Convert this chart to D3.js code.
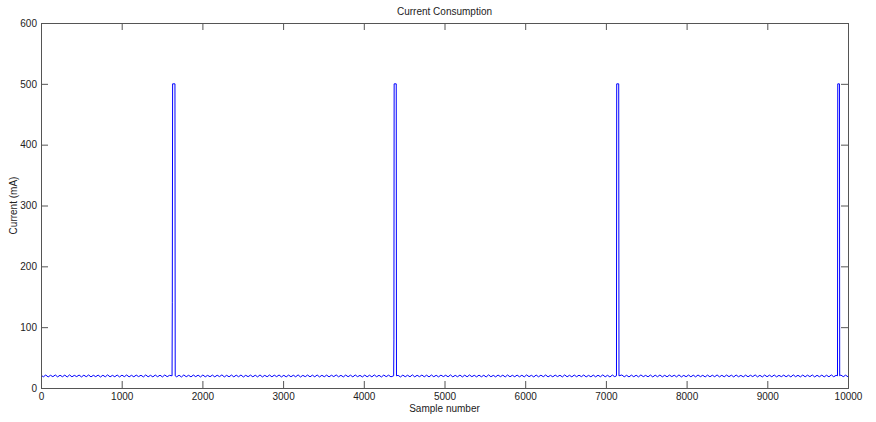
<!DOCTYPE html>
<html>
<head>
<meta charset="utf-8">
<script src="https://cdn.jsdelivr.net/npm/d3@7"></script>
<style>
  html, body { margin: 0; padding: 0; background: #fff; }
  svg { display: block; }
  text { font-family: "Liberation Sans", Arial, sans-serif; fill: #222; }
</style>
</head>
<body>
<svg id="chart" width="876" height="422"></svg>
<script>
// ---------- DATA ----------
const chartTitle = "Current Consumption";
const xLabel = "Sample number";
const yLabel = "Current (mA)";
const xTicks = [0,1000,2000,3000,4000,5000,6000,7000,8000,9000,10000];
const yTicks = [0,100,200,300,400,500,600];
const xDomain = [0, 10000];
const yDomain = [0, 600];

// Idle current ripple (mA), evenly spaced over samples 0..10000
const baseline = [
21.1,18.4,21.3,18.2,20.9,18.6,21.4,18.3,21.0,18.5,
21.2,18.1,21.5,18.4,20.8,18.7,21.3,18.2,21.1,18.5,
21.4,18.3,20.9,18.6,21.2,18.1,21.0,18.4,21.6,18.3,
20.8,18.5,21.3,18.2,21.1,18.6,21.4,18.3,20.9,18.4,
21.2,18.7,21.0,18.2,21.5,18.4,20.9,18.3,21.3,18.5,
21.1,18.2,21.4,18.6,20.8,18.3,21.2,18.4,21.0,18.1,
21.5,18.5,20.9,18.3,21.3,18.6,21.1,18.2,21.4,18.4,
20.8,18.5,21.2,18.3,21.0,18.7,21.6,18.2,20.9,18.4,
21.3,18.3,21.1,18.5,21.4,18.1,20.9,18.6,21.2,18.4,
21.0,18.3,21.5,18.2,20.8,18.5,21.3,18.4,21.1,18.6,
21.4,18.2,20.9,18.3,21.2,18.5,21.0,18.4,21.6,18.1,
20.8,18.6,21.3,18.3,21.1,18.4,21.4,18.2,20.9,18.5,
21.2,18.3,21.0,18.7,21.5,18.4,20.9,18.2,21.3,18.5,
21.1,18.3,21.4,18.6,20.8,18.2,21.2,18.4,21.0,18.3,
21.5,18.5,20.9,18.1,21.3,18.6,21.1,18.4,21.4,18.3,
20.8,18.2,21.2,18.5,21.0,18.4,21.6,18.3,20.9,18.6,
21.3,18.4,21.1,18.2,21.4,18.5,20.9,18.3,21.2,18.7,
21.0,18.4,21.5,18.3,20.8,18.5,21.3,18.2,21.1,18.4,
21.4,18.6,20.9,18.3,21.2,18.4,21.0,18.1,21.6,18.5,
20.8,18.3,21.3,18.6,21.1,18.2,21.4,18.4,20.9,18.5,
21.2,18.4,21.0,18.3,21.5,18.6,20.9,18.2,21.3,18.4,
21.1,18.5,21.4,18.3,20.8,18.4,21.2,18.7,21.0,18.2,
21.5,18.4,20.9,18.3,21.3,18.5,21.1,18.6,21.4,18.2,
20.8,18.4,21.2,18.3,21.0,18.5,21.6,18.4,20.9,18.1,
21.3,18.6,21.1,18.3,21.4,18.4,20.9,18.2,21.2,18.5,
21.0,18.3,21.5,18.6,20.8,18.4,21.3,18.2,21.1,18.5,
21.4,18.3,20.9,18.4,21.2,18.7,21.0,18.3,21.6,18.2,
20.8,18.5,21.3,18.4,21.1,18.3,21.4,18.6,20.9,18.2,
21.2,18.4,21.0,18.5,21.5,18.3,20.9,18.4,21.3,18.6,
21.1,18.2,21.4,18.5,20.8,18.3,21.2,18.4,21.0,18.7,
21.5,18.3,20.9,18.2,21.3,18.5,21.1,18.4,21.4,18.3,
20.8,18.6,21.2,18.4,21.0,18.2,21.6,18.5,20.9,18.3,
21.3,18.4,21.1,18.6,21.4,18.2,20.9,18.5,21.2,18.3,
21.0,18.4,21.5,18.5,20.8,18.3,21.3,18.6,21.1,18.4
];

// Transmission bursts: sample numbers and current values (mA)
const burst1Samples = [1624, 1627, 1631, 1660, 1663];
const burst1Values  = [20, 140, 500, 500, 20];
const burst2Samples = [4370, 4373, 4376, 4402, 4405];
const burst2Values  = [20, 79, 500, 500, 20];
const burst3Samples = [7131, 7134, 7159, 7162];
const burst3Values  = [20, 500, 500, 20];
const burst4Samples = [9870, 9873, 9894, 9897];
const burst4Values  = [20, 500, 500, 20];

// ---------- BUILD SERIES ----------
const bursts = [
  [burst1Samples, burst1Values],
  [burst2Samples, burst2Values],
  [burst3Samples, burst3Values],
  [burst4Samples, burst4Values]
];
const nB = baseline.length;
let pts = baseline.map((v, i) => ({ x: i * (xDomain[1] - xDomain[0]) / (nB - 1), y: v }));
bursts.forEach(([xs, ys]) => {
  const lo = xs[0], hi = xs[xs.length - 1];
  pts = pts.filter(p => p.x < lo - 10 || p.x > hi + 10);
  xs.forEach((xv, i) => pts.push({ x: xv, y: ys[i] }));
});
pts.sort((a, b) => a.x - b.x);

// ---------- DRAW ----------
const svg = d3.select("#chart");
const L = 41, R = 848, T = 23, B = 388;
const xS = d3.scaleLinear().domain(xDomain).range([L, R]);
const yS = d3.scaleLinear().domain(yDomain).range([B, T]);
const axisColor = "#555";
const tickLen = 7;

svg.append("rect").attr("x", L).attr("y", T).attr("width", R - L).attr("height", B - T)
  .attr("fill", "#fff");

svg.append("path")
  .datum(pts)
  .attr("fill", "none")
  .attr("stroke", "#0000ff")
  .attr("stroke-width", 1)
  .attr("d", d3.line().x(d => xS(d.x)).y(d => yS(d.y)));

const fs = 10;
const gBottom = svg.append("g").attr("transform", `translate(0,${B})`)
  .call(d3.axisBottom(xS).tickValues(xTicks).tickSize(-tickLen).tickPadding(5).tickFormat(d3.format("d")));
const gTop = svg.append("g").attr("transform", `translate(0,${T})`)
  .call(d3.axisTop(xS).tickValues(xTicks).tickSize(-tickLen).tickFormat(""));
const gLeft = svg.append("g").attr("transform", `translate(${L},0)`)
  .call(d3.axisLeft(yS).tickValues(yTicks).tickSize(-tickLen).tickPadding(4).tickFormat(d3.format("d")));
const gRight = svg.append("g").attr("transform", `translate(${R},0)`)
  .call(d3.axisRight(yS).tickValues(yTicks).tickSize(-tickLen).tickFormat(""));

[gBottom, gTop, gLeft, gRight].forEach(g => {
  g.select(".domain").attr("stroke", axisColor).attr("stroke-width", 1);
  g.selectAll(".tick line").attr("stroke", axisColor).attr("stroke-width", 1);
  g.selectAll(".tick text").attr("font-size", fs).attr("fill", "#222")
    .attr("font-family", "'Liberation Sans', Arial, sans-serif");
});

svg.append("text").attr("x", (L + R) / 2).attr("y", 15)
  .attr("text-anchor", "middle").attr("font-size", fs).text(chartTitle);
svg.append("text").attr("x", (L + R) / 2).attr("y", 412)
  .attr("text-anchor", "middle").attr("font-size", fs).text(xLabel);
svg.append("text")
  .attr("transform", `translate(17,${(T + B) / 2}) rotate(-90)`)
  .attr("text-anchor", "middle").attr("font-size", fs).text(yLabel);
</script>
</body>
</html>
